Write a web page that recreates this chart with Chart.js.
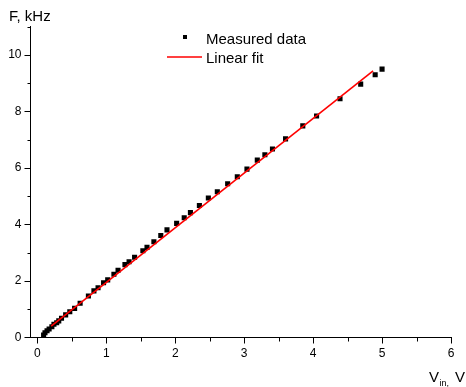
<!DOCTYPE html>
<html><head><meta charset="utf-8">
<script src="https://cdn.jsdelivr.net/npm/chart.js@4"></script>
<style>html,body{margin:0;padding:0;background:#fff}#c{display:block}</style>
</head><body>
<canvas id="c" width="466" height="387" style="width:466px;height:387px"></canvas>
<script>
const vin  = [0.09,0.11,0.14,0.17,0.21,0.24,0.28,0.31,0.35,0.41,0.47,0.54,0.62,0.74,0.82,0.88,0.96,1.02,1.11,1.17,1.27,1.33,1.41,1.53,1.59,1.69,1.79,1.88,2.02,2.13,2.22,2.35,2.48,2.61,2.76,2.90,3.04,3.19,3.30,3.41,3.60,3.85,4.05,4.39,4.69,4.90,5.00];
const freq = [0.09,0.17,0.24,0.30,0.38,0.47,0.52,0.59,0.68,0.80,0.91,1.03,1.21,1.47,1.65,1.76,1.94,2.04,2.24,2.38,2.58,2.68,2.84,3.07,3.19,3.39,3.61,3.81,4.04,4.24,4.42,4.67,4.94,5.16,5.44,5.69,5.96,6.28,6.47,6.67,7.03,7.49,7.84,8.45,8.97,9.30,9.50];
const fitV = [0.20, 4.87];
const fitF = [0.40, 9.44];
const xMajorTicks = [0,1,2,3,4,5,6];
const yMajorTicks = [0,2,4,6,8,10];
const xMinorTicks = [0.5,1.5,2.5,3.5,4.5,5.5];
const yMinorTicks = [1,3,5,7,9,11];
const seriesLabels = ['Measured data','Linear fit'];

const FONT = '"Liberation Sans", Arial, Helvetica, sans-serif';

const extras = {
  id:'extras',
  afterDraw(chart){
    const ctx = chart.ctx, xs = chart.scales.x, ys = chart.scales.y;
    const ca = chart.chartArea;
    ctx.save();
    ctx.strokeStyle = '#000'; ctx.lineWidth = 1;
    ctx.beginPath();
    xMinorTicks.forEach(v=>{
      const px = Math.round(xs.getPixelForValue(v)) + 0.5;
      ctx.moveTo(px, Math.round(ca.bottom)); ctx.lineTo(px, Math.round(ca.bottom) + 3.5);
    });
    yMinorTicks.forEach(v=>{
      const py = Math.round(ys.getPixelForValue(v)) + 0.5;
      ctx.moveTo(Math.round(ca.left), py); ctx.lineTo(Math.round(ca.left) - 3.5, py);
    });
    ctx.stroke();
    // axis titles
    ctx.fillStyle = '#000';
    ctx.textBaseline = 'alphabetic';
    ctx.textAlign = 'left';
    ctx.font = '15px ' + FONT;
    ctx.fillText('F, kHz', 9, 21);
    ctx.fillText('V', 429, 382);
    ctx.font = '9px ' + FONT;
    ctx.fillText('in,', 439.5, 386);
    ctx.font = '15px ' + FONT;
    ctx.fillText('V', 455, 382);
    // legend
    const d0 = chart.data.datasets[0], d1 = chart.data.datasets[1];
    ctx.fillStyle = d0.backgroundColor;
    ctx.fillRect(183, 35, 4, 4);
    ctx.strokeStyle = d1.borderColor; ctx.lineWidth = 1.5;
    ctx.beginPath(); ctx.moveTo(167, 57); ctx.lineTo(202, 57); ctx.stroke();
    ctx.fillStyle = '#000';
    ctx.font = '15px ' + FONT;
    ctx.fillText(d0.label, 206, 44);
    ctx.fillText(d1.label, 206, 63);
    ctx.restore();
  }
};

const axisCommon = {
  type:'linear',
  grid:{display:true, drawOnChartArea:false, drawTicks:true, tickLength:6, color:'#000', lineWidth:1},
  border:{display:true, color:'#000', width:1},
  ticks:{color:'#000', font:{family:FONT, size:12}, maxRotation:0, autoSkip:false}
};

new Chart(document.getElementById('c'), {
  type:'scatter',
  data:{
    datasets:[
      {label:seriesLabels[0], data:vin.map((v,i)=>({x:v,y:freq[i]})), pointStyle:'rect', pointRadius:3.6, pointHoverRadius:3.6,
       backgroundColor:'#000', borderColor:'#000', borderWidth:0, showLine:false, order:2},
      {label:seriesLabels[1], data:fitV.map((v,i)=>({x:v,y:fitF[i]})), showLine:true, pointRadius:0,
       borderColor:'#ff0000', backgroundColor:'#ff0000', borderWidth:1.6, order:1}
    ]
  },
  options:{
    responsive:false, animation:false, devicePixelRatio:1,
    layout:{padding:{top:26.75, right:15, left:0, bottom:0}},
    plugins:{legend:{display:false}, tooltip:{enabled:false}, title:{display:false}},
    scales:{
      x:Object.assign({}, axisCommon, {min:-0.1, max:6,
        afterBuildTicks:s=>{s.ticks = xMajorTicks.map(v=>({value:v}));},
        afterFit:s=>{s.height = 49.5;},
        ticks:Object.assign({}, axisCommon.ticks, {padding:3})}),
      y:Object.assign({}, axisCommon, {min:0, max:11,
        afterBuildTicks:s=>{s.ticks = yMajorTicks.map(v=>({value:v}));},
        afterFit:s=>{s.width = 30.5;},
        ticks:Object.assign({}, axisCommon.ticks, {padding:3})})
    }
  },
  plugins:[extras]
});
</script>
</body></html>
